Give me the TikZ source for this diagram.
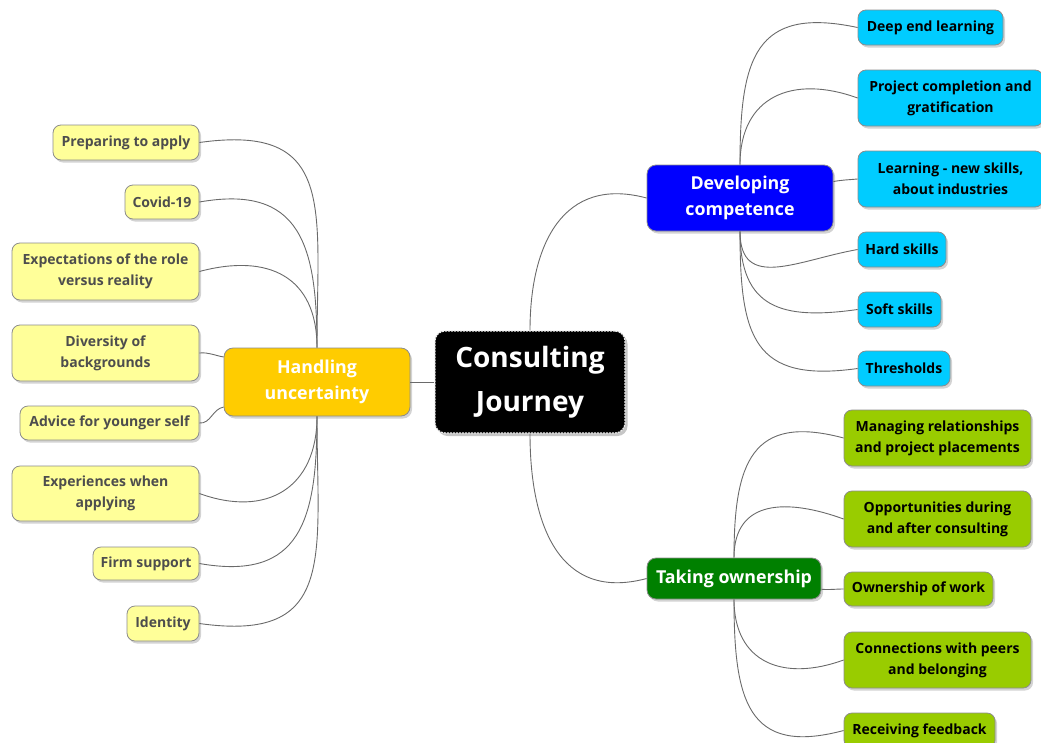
\documentclass[tikz,border=0pt]{standalone}
\usepackage{fontspec}
\setmainfont{Open Sans}
\usetikzlibrary{shadows}
\definecolor{lineC}{HTML}{6A6A6A}
\definecolor{bordC}{HTML}{8C8C8C}
\definecolor{yelL}{HTML}{FFFF99}
\definecolor{yelB}{HTML}{FFCC00}
\definecolor{bluL}{HTML}{00CCFF}
\definecolor{bluB}{HTML}{0000FF}
\definecolor{grnL}{HTML}{99CC00}
\definecolor{grnB}{HTML}{008000}
\definecolor{txtY}{HTML}{4D4D4D}
\tikzset{
  boxbase/.style={draw=bordC, line width=0.8pt, rounded corners=8pt, inner sep=0pt, align=center,
    font=\bfseries\fontsize{14}{21}\selectfont,
    drop shadow={opacity=0.35, shadow xshift=2pt, shadow yshift=-2.5pt}},
  yleaf/.style={boxbase, fill=yelL, text=txtY},
  bleaf/.style={boxbase, fill=bluL, text=black},
  gleaf/.style={boxbase, fill=grnL, text=black},
  branch/.style={boxbase, text=white, rounded corners=9pt, font=\bfseries\fontsize{17.8}{26}\selectfont},
  centre/.style={draw=white!85!gray, dashed, dash pattern=on 2pt off 1pt, line width=1.2pt, fill=black, text=white,
    rounded corners=10pt, inner sep=0pt, align=center, font=\bfseries\fontsize{28}{44}\selectfont,
    drop shadow={opacity=0.45, shadow xshift=2.5pt, shadow yshift=-3pt}},
  conn/.style={draw=lineC, line width=0.9pt},
}
\begin{document}
\begin{tikzpicture}[x=1pt,y=1pt]
\useasboundingbox (0,0) rectangle (1041,-742);
% nodes
\node[centre, minimum width=190pt, minimum height=102pt] (C) at (530,-382) {\raisebox{-3pt}{Consulting}\\\raisebox{-3pt}{Journey}};
\node[branch, fill=yelB, minimum width=186pt, minimum height=68pt] (HU) at (317,-382) {Handling\\uncertainty};
\node[branch, fill=bluB, minimum width=186pt, minimum height=66pt] (DC) at (740,-198) {Developing\\competence};
\node[branch, fill=grnB, minimum width=174pt, minimum height=41pt] (TO) at (734,-578.5) {Taking ownership};
% yellow leaves
\node[yleaf, minimum width=146pt, minimum height=35pt] (PA) at (126,-142.5) {Preparing to apply};
\node[yleaf, minimum width=74pt, minimum height=34pt] (CV) at (162,-202) {Covid-19};
\node[yleaf, minimum width=187pt, minimum height=57pt] (EX) at (105.5,-271.5) {Expectations of the role\\versus reality};
\node[yleaf, minimum width=187pt, minimum height=56pt] (DI) at (105.5,-353) {Diversity of\\backgrounds};
\node[yleaf, minimum width=179pt, minimum height=34pt] (AD) at (109.5,-423) {Advice for younger self};
\node[yleaf, minimum width=187pt, minimum height=55pt] (EA) at (105.5,-493.5) {Experiences when\\applying};
\node[yleaf, minimum width=106pt, minimum height=33pt] (FS) at (146,-563.5) {Firm support};
\node[yleaf, minimum width=72pt, minimum height=35pt] (ID) at (163,-623.5) {Identity};
% blue leaves
\node[bleaf, minimum width=145pt, minimum height=35pt] (DE) at (930.5,-27.5) {Deep end learning};
\node[bleaf, minimum width=185pt, minimum height=56pt] (PC) at (950.5,-98) {Project completion and\\gratification};
\node[bleaf, minimum width=185pt, minimum height=56pt] (LN) at (950.5,-179) {Learning - new skills,\\about industries};
\node[bleaf, minimum width=88pt, minimum height=35pt] (HS) at (902,-249.5) {Hard skills};
\node[bleaf, minimum width=83pt, minimum height=35pt] (SS) at (899.5,-309.5) {Soft skills};
\node[bleaf, minimum width=92pt, minimum height=35pt] (TH) at (904,-368.5) {Thresholds};
% green leaves
\node[gleaf, minimum width=187pt, minimum height=56pt] (MR) at (937.5,-438) {Managing relationships\\and project placements};
\node[gleaf, minimum width=187pt, minimum height=56pt] (OP) at (937.5,-519) {Opportunities during\\and after consulting};
\node[gleaf, minimum width=149pt, minimum height=34pt] (OW) at (918.5,-589) {Ownership of work};
\node[gleaf, minimum width=187pt, minimum height=56pt] (CN) at (937.5,-660) {Connections with peers\\and belonging};
\node[gleaf, minimum width=151pt, minimum height=35pt] (RF) at (919.5,-730.5) {Receiving feedback};
% connectors
\path[conn] (C.west) -- (HU.east);
\path[conn] (C.north) to[out=90, in=165, looseness=1.25] (DC.west);
\path[conn] (C.south) to[out=-90, in=195, looseness=1.25] (TO.west);
% HU
\path[conn] (HU.north) to[out=90, in=8, looseness=1.5] (PA.east);
\path[conn] (HU.north) to[out=90, in=10, looseness=1.4] (CV.east);
\path[conn] (HU.north) to[out=90, in=15, looseness=1.3] (EX.east);
\path[conn] (HU.165) to[out=170, in=5, looseness=1] (DI.east);
\path[conn] (HU.195) to[out=190, in=-5, looseness=1] (AD.east);
\path[conn] (HU.south) to[out=-90, in=-20, looseness=1.3] (EA.east);
\path[conn] (HU.south) to[out=-90, in=-10, looseness=1.4] (FS.east);
\path[conn] (HU.south) to[out=-90, in=-8, looseness=1.5] (ID.east);
% DC
\path[conn] (DC.north) to[out=90, in=168, looseness=1.5] (DE.west);
\path[conn] (DC.north) to[out=90, in=160, looseness=1.3] (PC.west);
\path[conn] (DC.10) to[out=10, in=185, looseness=1] (LN.west);
\path[conn] (DC.south) to[out=-90, in=190, looseness=1.3] (HS.west);
\path[conn] (DC.south) to[out=-90, in=188, looseness=1.4] (SS.west);
\path[conn] (DC.south) to[out=-90, in=188, looseness=1.5] (TH.west);
% TO
\path[conn] (TO.north) to[out=90, in=165, looseness=1.5] (MR.west);
\path[conn] (TO.north) to[out=90, in=160, looseness=1.3] (OP.west);
\path[conn] (TO.-7) to[out=-5, in=180, looseness=1] (OW.west);
\path[conn] (TO.south) to[out=-90, in=200, looseness=1.3] (CN.west);
\path[conn] (TO.south) to[out=-90, in=195, looseness=1.5] (RF.west);
\end{tikzpicture}
\end{document}
